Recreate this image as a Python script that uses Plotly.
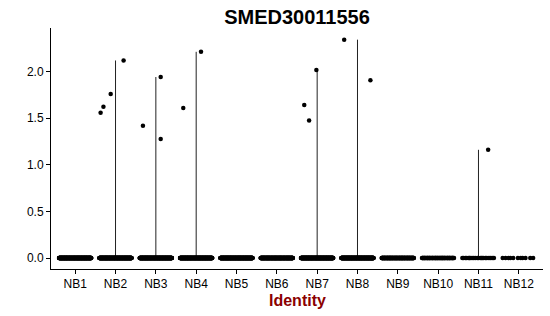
import plotly.graph_objects as go

# ---- data ----
identities = ["NB1", "NB2", "NB3", "NB4", "NB5", "NB6", "NB7", "NB8", "NB9", "NB10", "NB11", "NB12"]
zero_counts = [300, 300, 300, 300, 300, 260, 300, 300, 160, 70, 24, 11]
nonzero_values = {
    "NB2": [1.556, 1.62, 1.759, 2.117],
    "NB3": [1.417, 1.94, 1.277],
    "NB4": [1.609, 2.21],
    "NB7": [1.64, 1.473, 2.016],
    "NB8": [2.34, 1.906],
    "NB11": [1.16],
}
# jitter offsets (position only) for the non-zero points
nonzero_jitter = {
    "NB2": [-0.37, -0.30, -0.12, 0.20],
    "NB3": [-0.32, 0.12, 0.12],
    "NB4": [-0.32, 0.12],
    "NB7": [-0.32, -0.20, -0.02],
    "NB8": [-0.33, 0.32],
    "NB11": [0.24],
}

fig = go.Figure()

# violin "spines" (very thin violins): from 0 to group max
for i, name in enumerate(identities):
    vals = nonzero_values.get(name, [])
    if vals:
        fig.add_trace(go.Scatter(x=[i + 1, i + 1], y=[0, max(vals)], mode="lines",
                                 line=dict(color="#222222", width=1), hoverinfo="skip",
                                 showlegend=False))

# jittered points
xs, ys = [], []
for i, name in enumerate(identities):
    n = zero_counts[i]
    for k in range(n):
        off = ((k * 0.6180339887) % 1.0 - 0.5) * 0.8
        xs.append(i + 1 + off)
        ys.append(0.0)
    for v, j in zip(nonzero_values.get(name, []), nonzero_jitter.get(name, [])):
        xs.append(i + 1 + j)
        ys.append(v)

fig.add_trace(go.Scatter(x=xs, y=ys, mode="markers",
                         marker=dict(color="black", size=4.5, line=dict(width=0)),
                         showlegend=False))

fig.update_layout(
    width=550, height=316,
    margin=dict(l=51, r=7, t=28, b=47),
    paper_bgcolor="white", plot_bgcolor="white",
    font=dict(family="Liberation Sans, Arial, sans-serif", color="black"),
    title=dict(text="<b>SMED30011556</b>", x=0.5, xref="paper", xanchor="center",
               y=1 - 17 / 316, yref="container", yanchor="middle",
               font=dict(size=20, color="black")),
    showlegend=False,
)
fig.update_xaxes(
    range=[0.4, 12.6], tickmode="array", tickvals=list(range(1, 13)), ticktext=identities,
    showgrid=False, zeroline=False, showline=True, linecolor="black", linewidth=1,
    ticks="outside", ticklen=4, tickcolor="black", tickfont=dict(size=12, color="black"),
)
fig.update_yaxes(
    range=[-0.117, 2.465], tickmode="array", tickvals=[0, 0.5, 1.0, 1.5, 2.0],
    ticktext=["0.0", "0.5", "1.0", "1.5", "2.0"],
    showgrid=False, zeroline=False, showline=True, linecolor="black", linewidth=1,
    ticks="outside", ticklen=4, tickcolor="black", tickfont=dict(size=12, color="black"),
)
fig.add_annotation(text="<b>Identity</b>", x=0.5, xref="paper", y=-(300 - 269) / 241, yref="paper",
                   yanchor="middle", xanchor="center", showarrow=False,
                   font=dict(size=16, color="#8B0000"))

fig.write_html("out.html")
